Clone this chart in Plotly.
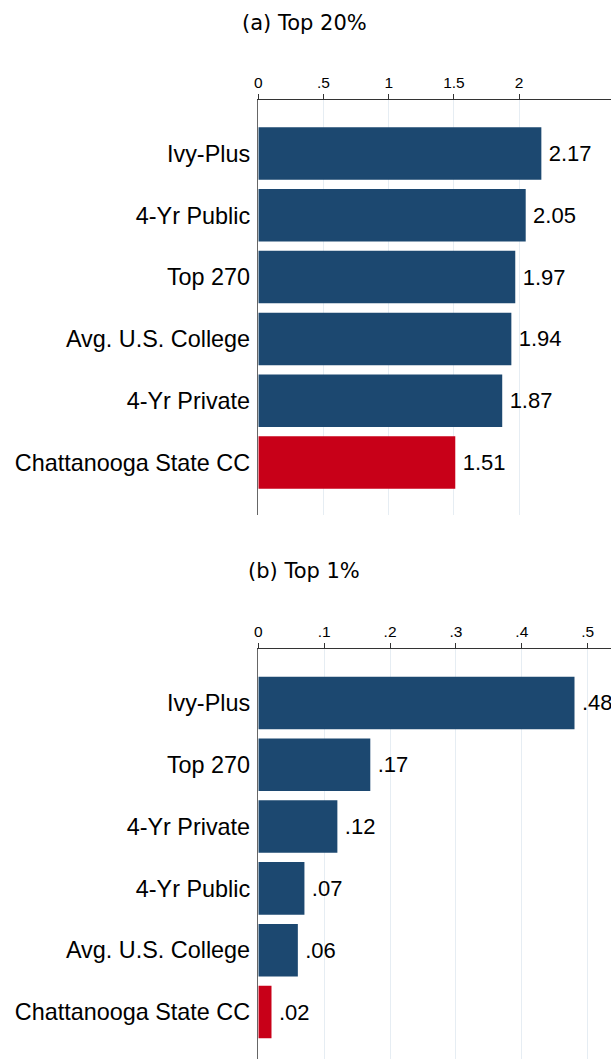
import plotly.graph_objects as go

# ---- data ----
cats_a = ["Ivy-Plus", "4-Yr Public", "Top 270", "Avg. U.S. College", "4-Yr Private", "Chattanooga State CC"]
vals_a = [2.17, 2.05, 1.97, 1.94, 1.87, 1.51]
cats_b = ["Ivy-Plus", "Top 270", "4-Yr Private", "4-Yr Public", "Avg. U.S. College", "Chattanooga State CC"]
vals_b = [0.48, 0.17, 0.12, 0.07, 0.06, 0.02]
highlight = "Chattanooga State CC"

ticks_a = [0, 0.5, 1, 1.5, 2]
ticklabels_a = ["0", ".5", "1", "1.5", "2"]
ticks_b = [0, 0.1, 0.2, 0.3, 0.4, 0.5]
ticklabels_b = ["0", ".1", ".2", ".3", ".4", ".5"]

NAVY = "#1c4870"
RED = "#c80018"
FONT = "Liberation Sans, Arial, sans-serif"
TITLE_FONT = "DejaVu Sans, sans-serif"

W, H = 611, 1059


def px_x(x):
    return x / W


def px_y(y):
    return 1 - y / H


def fmt(v):
    s = f"{v:.2f}"
    return "\u2009" + (s[1:] if s.startswith("0.") else s)


def colors(cats):
    return [RED if c == highlight else NAVY for c in cats]


fig = go.Figure()
fig.add_trace(go.Bar(
    y=cats_a, x=vals_a, orientation="h", width=0.85,
    marker=dict(color=colors(cats_a), line=dict(width=0)),
    text=[fmt(v) for v in vals_a], textposition="outside",
    textfont=dict(size=22, color="black", family=FONT),
    constraintext="none", cliponaxis=False,
    xaxis="x", yaxis="y", showlegend=False, hoverinfo="skip",
))
fig.add_trace(go.Bar(
    y=cats_b, x=vals_b, orientation="h", width=0.85,
    marker=dict(color=colors(cats_b), line=dict(width=0)),
    text=[fmt(v) for v in vals_b], textposition="outside",
    textfont=dict(size=22, color="black", family=FONT),
    constraintext="none", cliponaxis=False,
    xaxis="x2", yaxis="y2", showlegend=False, hoverinfo="skip",
))

xcommon = dict(
    side="top", showline=True, linecolor="#333333", linewidth=1,
    ticks="outside", ticklen=5, tickcolor="#333333", tickwidth=1,
    showgrid=True, gridcolor="#e6edf3", gridwidth=1, zeroline=False,
    tickfont=dict(size=15.5, color="black", family=FONT),
    domain=[px_x(256), 1], fixedrange=True,
)
ycommon = dict(
    type="category", showline=True, linecolor="#666666", linewidth=1.5,
    ticks="", showgrid=False, zeroline=False, ticklabelstandoff=2,
    tickfont=dict(size=23.4, color="black", family=FONT), fixedrange=True,
)

fig.update_layout(
    width=W, height=H,
    margin=dict(l=0, r=0, t=0, b=0),
    paper_bgcolor="white", plot_bgcolor="white",
    xaxis=dict(xcommon, range=[0, 2.704], tickvals=ticks_a, ticktext=ticklabels_a, anchor="y"),
    yaxis=dict(ycommon, range=[5.85, -0.866], domain=[px_y(515), px_y(100)], anchor="x"),
    xaxis2=dict(xcommon, range=[0, 0.5354], tickvals=ticks_b, ticktext=ticklabels_b, anchor="y2"),
    yaxis2=dict(ycommon, range=[5.76, -0.868], domain=[0, px_y(649.3)], anchor="x2"),
    annotations=[
        dict(text="(a) Top 20%", x=px_x(302), y=px_y(23), xref="paper", yref="paper",
             xanchor="center", yanchor="middle", showarrow=False,
             font=dict(size=21, color="black", family=TITLE_FONT)),
        dict(text="(b) Top 1%", x=px_x(302), y=px_y(571), xref="paper", yref="paper",
             xanchor="center", yanchor="middle", showarrow=False,
             font=dict(size=21, color="black", family=TITLE_FONT)),
    ],
)

fig.write_html(
    "out.html",
    config={"displayModeBar": False, "staticPlot": True},
    post_script=(
        "document.documentElement.style.margin='0';"
        "document.body.style.margin='0';"
        "document.documentElement.style.overflow='hidden';"
        "document.body.style.overflow='hidden';"
    ),
)
